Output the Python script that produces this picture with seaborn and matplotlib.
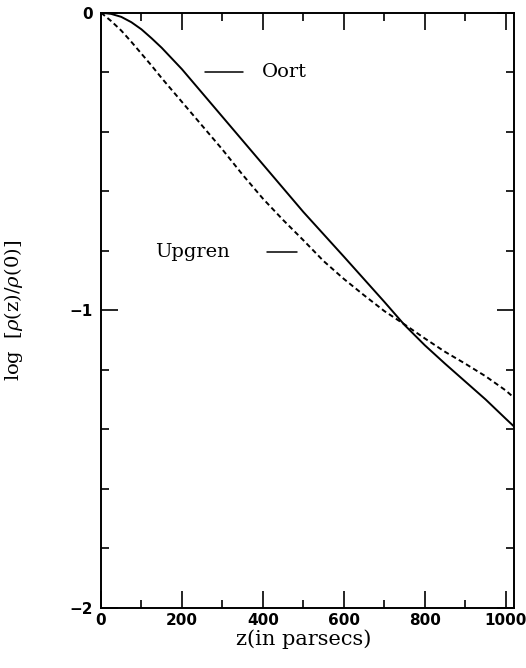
import pandas as pd
from matplotlib import pyplot as plt
from matplotlib.ticker import MultipleLocator
import seaborn as sns

# z in parsecs, log density ratio
z = [0, 25, 50, 75, 100, 125, 150, 200, 250, 300, 350, 400, 450, 500, 550,
     600, 650, 700, 750, 800, 850, 900, 950, 1000, 1025]
oort = [0, -0.004, -0.014, -0.032, -0.056, -0.086, -0.118, -0.19, -0.27,
        -0.35, -0.43, -0.51, -0.59, -0.67, -0.745, -0.82, -0.896, -0.972,
        -1.05, -1.118, -1.18, -1.24, -1.30, -1.365, -1.397]
upgren = [0, -0.028, -0.06, -0.098, -0.138, -0.178, -0.22, -0.30, -0.38,
          -0.46, -0.545, -0.625, -0.697, -0.765, -0.835, -0.895, -0.95,
          -1.003, -1.048, -1.095, -1.14, -1.18, -1.222, -1.27, -1.30]

df = pd.DataFrame({'z': z, 'Oort': oort, 'Upgren': upgren})

sns.set_style('ticks')
plt.rcParams['font.family'] = ['DejaVu Serif']
plt.rcParams['mathtext.fontset'] = 'dejavuserif'
plt.rcParams['text.color'] = 'black'
plt.rcParams['axes.labelcolor'] = 'black'

fig = plt.figure(figsize=(5.26, 6.68), dpi=100)
ax = fig.add_axes([0.192, 0.0903, 0.785, 0.8907])

sns.lineplot(data=df, x='z', y='Oort', ax=ax, color='black', lw=1.4)
sns.lineplot(data=df, x='z', y='Upgren', ax=ax, color='black', lw=1.4,
             linestyle=(0, (2.6, 1.7)))

# in-plot labels
ax.plot([258, 352], [-0.2, -0.2], color='black', lw=1.1)
ax.text(398, -0.2, 'Oort', fontsize=14, va='center', ha='left')
ax.plot([410, 485], [-0.804, -0.804], color='black', lw=1.1)
ax.text(133, -0.804, 'Upgren', fontsize=14, va='center', ha='left')

ax.set_xlim(0, 1020)
ax.set_ylim(-2, 0)
ax.xaxis.set_major_locator(MultipleLocator(200))
ax.xaxis.set_minor_locator(MultipleLocator(100))
ax.yaxis.set_major_locator(MultipleLocator(1))
ax.yaxis.set_minor_locator(MultipleLocator(0.2))
ax.tick_params(which='both', direction='in', top=True, right=True,
               width=1.2, colors='black')
ax.tick_params(which='major', length=12)
ax.tick_params(which='minor', length=6)
ax.tick_params(axis='x', pad=4)
ax.tick_params(axis='y', pad=6)
for lab in ax.get_xticklabels() + ax.get_yticklabels():
    lab.set_fontfamily('DejaVu Sans')
    lab.set_fontweight('bold')
    lab.set_fontsize(11)
for s in ax.spines.values():
    s.set_linewidth(1.4)
    s.set_color('black')

ax.set_xlabel('z(in parsecs)', fontsize=15)
ax.set_ylabel(r'log  $[\rho$(z)/$\rho$(0)]', fontsize=14)
ax.xaxis.set_label_coords(0.49, -0.036)
ax.yaxis.set_label_coords(-0.185, 0.5)

fig.savefig('out.png', dpi=100)
